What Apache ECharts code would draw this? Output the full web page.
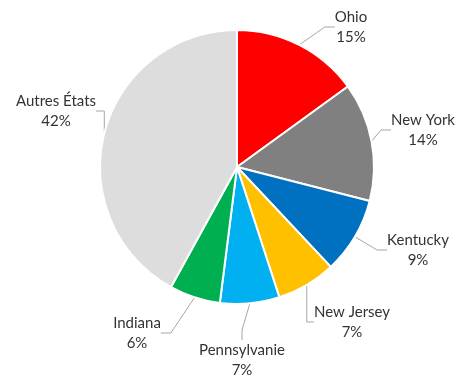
<!DOCTYPE html>
<html>
<head>
<meta charset="utf-8">
<script src="https://cdn.jsdelivr.net/npm/echarts@6/dist/echarts.min.js"></script>
<style>
  html, body { margin: 0; padding: 0; background: #fff; }
  #chart { width: 456px; height: 375px; }
</style>
</head>
<body>
<div id="chart"></div>
<script>
// Répartition par État (parts en %)
const states = ['Ohio', 'New York', 'Kentucky', 'New Jersey', 'Pennsylvanie', 'Indiana', 'Autres États'];
const shares = [15, 14, 9, 7, 7, 6, 42];
const sliceColors = ['#FF0000', '#808080', '#0070C0', '#FFC000', '#00B0F0', '#00B050', '#DDDDDD'];

// Label block centres (px), placed around the pie
const labelSpots = [[351, 27], [423, 130], [418, 250], [352, 322], [242, 360], [137, 333], [56, 111]];

const chart = echarts.init(document.getElementById('chart'), null, { renderer: 'canvas' });

chart.setOption({
  animation: false,
  series: [{
    type: 'pie',
    center: [237, 167],
    radius: [0, 137],
    startAngle: 90,
    clockwise: true,
    data: states.map((name, i) => ({
      name: name,
      value: shares[i],
      itemStyle: { color: sliceColors[i] }
    })),
    itemStyle: { borderColor: '#ffffff', borderWidth: 2 },
    label: {
      show: true,
      position: 'outside',
      formatter: p => p.name + '\n' + Math.round(p.percent) + '%',
      fontFamily: 'Lato',
      fontSize: 15,
      lineHeight: 20,
      color: '#333333',
      align: 'center',
      overflow: 'none'
    },
    labelLine: {
      show: true,
      length: 10,
      length2: 10,
      lineStyle: { color: '#A6A6A6', width: 1 }
    },
    labelLayout: function (params) {
      const spot = labelSpots[params.dataIndex];
      return {
        x: spot[0],
        y: spot[1],
        align: 'center',
        verticalAlign: 'middle'
      };
    },
    emphasis: { disabled: true }
  }]
});
</script>
</body>
</html>
